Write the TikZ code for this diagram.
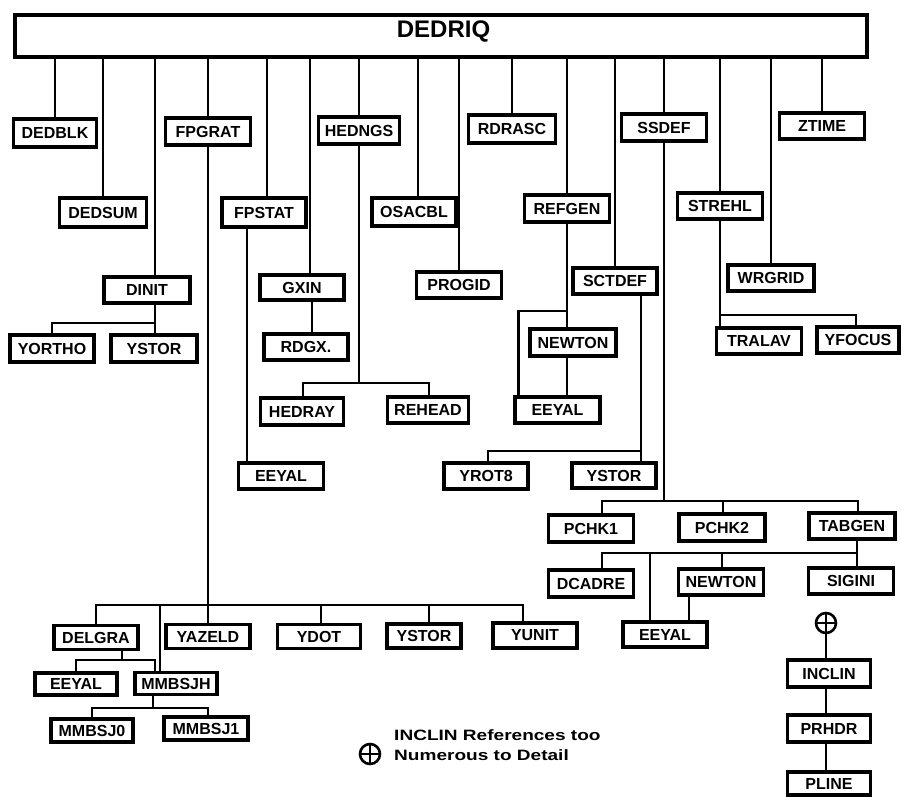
\documentclass[tikz,border=0pt]{standalone}
\usepackage{fontspec}
\setmainfont{Liberation Sans}
\newfontfamily\widefont{Liberation Sans}[FakeStretch=1.27]
\begin{document}
\begin{tikzpicture}[x=1pt,y=-1pt,
  box/.style={draw, line width=3.2pt, fill=white, inner sep=0pt,
    minimum width=84pt, minimum height=26pt,
    font=\bfseries\fontsize{16}{16}\selectfont},
  wire/.style={line width=2.8pt},
  bar/.style={draw, line width=3.2pt, fill=white, inner sep=0pt,
    minimum width=852pt, minimum height=42pt},
  titletext/.style={inner sep=0pt, font=\bfseries\fontsize{24}{24}\selectfont},
  oplus/.style={circle, draw, line width=2.6pt, minimum size=20pt, inner sep=0pt,
    path picture={\draw[line width=2.6pt]
      (path picture bounding box.north) -- (path picture bounding box.south)
      (path picture bounding box.west) -- (path picture bounding box.east);}},
  legendtext/.style={inner sep=0pt, align=left,
    font=\widefont\bfseries\fontsize{15}{20}\selectfont}
]
\fill[white] (0,0) rectangle (901,796);
\useasboundingbox (0,0) rectangle (901,796);

% top bar
\node[bar] (bar) at (441,36) {};
\node[titletext, anchor=base] (title) at (443.5,37) {DEDRIQ};

% row 1
\node[box, minimum width=83, minimum height=28] (dedblk) at (55,133) {DEDBLK};
\node[box, minimum width=85, minimum height=27] (fpgrat) at (208,131.5) {FPGRAT};
\node[box, minimum width=81, minimum height=27] (hedngs) at (359,130.5) {HEDNGS};
\node[box, minimum width=87, minimum height=28] (rdrasc) at (512,129) {RDRASC};
\node[box, minimum width=85, minimum height=27] (ssdef) at (664,127.5) {SSDEF};
\node[box, minimum width=85, minimum height=26] (ztime) at (822,126) {ZTIME};

% row 2
\node[box, minimum width=87, minimum height=29] (dedsum) at (103,212.5) {DEDSUM};
\node[box, minimum width=84, minimum height=29] (fpstat) at (264,212.5) {FPSTAT};
\node[box, minimum width=84, minimum height=28] (osacbl) at (414,212) {OSACBL};
\node[box, minimum width=85, minimum height=27] (refgen) at (567,208.5) {REFGEN};
\node[box, minimum width=85, minimum height=26] (strehl) at (720,206) {STREHL};

% row 3
\node[box, minimum width=86] (dinit) at (147,290) {DINIT};
\node[box, minimum width=84, minimum height=25] (gxin) at (302,287.5) {GXIN};
\node[box, minimum width=85] (progid) at (459,285) {PROGID};
\node[box, minimum width=84] (sctdef) at (615,281) {SCTDEF};
\node[box, minimum width=86] (wrgrid) at (771,278) {WRGRID};

% row 4
\node[box, minimum width=84, minimum height=27] (yortho) at (52,348.5) {YORTHO};
\node[box, minimum width=86, minimum height=27] (ystorA) at (154,348.5) {YSTOR};
\node[box, minimum width=84] (rdgx) at (306,347) {RDGX.};
\node[box, minimum width=86, minimum height=27] (newtonA) at (573,342.5) {NEWTON};
\node[box, minimum width=85] (tralav) at (759,341) {TRALAV};
\node[box, minimum width=82] (yfocus) at (858,340) {YFOCUS};

% row 5
\node[box, minimum width=83, minimum height=27] (hedray) at (302,411.5) {HEDRAY};
\node[box, minimum width=81] (rehead) at (428,410) {REHEAD};
\node[box, minimum width=85] (eeyalA) at (557.5,410) {EEYAL};

% row 6
\node[box, minimum width=85] (eeyalB) at (281,476) {EEYAL};
\node[box, minimum width=84] (yrot) at (486,476) {YROT8};
\node[box, minimum width=84, minimum height=25] (ystorB) at (614,475.5) {YSTOR};

% SSDEF subtree
\node[box, minimum width=85, minimum height=27] (pchka) at (591,528.5) {PCHK1};
\node[box, minimum width=86, minimum height=27] (pchkb) at (722,527.5) {PCHK2};
\node[box, minimum width=86] (tabgen) at (852,526) {TABGEN};
\node[box, minimum width=85, minimum height=27] (dcadre) at (591,583.5) {DCADRE};
\node[box, minimum width=85] (newtonB) at (721,582) {NEWTON};
\node[box, minimum width=85] (sigini) at (851,581) {SIGINI};
\node[box, minimum width=84, minimum height=25] (eeyalC) at (665,634.5) {EEYAL};
\node[oplus] (plusA) at (826,623) {};
\node[box, minimum width=83, minimum height=27] (inclin) at (829,673.5) {INCLIN};
\node[box, minimum width=83, minimum height=27] (prhdr) at (829,728.5) {PRHDR};
\node[box, minimum width=83, minimum height=23] (pline) at (829,783.5) {PLINE};

% FPGRAT subtree
\node[box, minimum width=84, minimum height=24] (delgra) at (96,637.5) {DELGRA};
\node[box, minimum width=84, minimum height=24] (yazeld) at (208,636.5) {YAZELD};
\node[box, minimum width=83, minimum height=24] (ydot) at (319,636.5) {YDOT};
\node[box, minimum width=74, minimum height=24] (ystorC) at (424,636) {YSTOR};
\node[box, minimum width=84, minimum height=25] (yunit) at (535,635.5) {YUNIT};
\node[box, minimum width=82, minimum height=22] (eeyalD) at (76,684) {EEYAL};
\node[box, minimum width=82, minimum height=22] (mmbsjh) at (176,683.5) {MMBSJH};
\node[box, minimum width=82, minimum height=23] (mmbsja) at (92,730.5) {MMBSJ0};
\node[box, minimum width=84, minimum height=23] (mmbsjb) at (206,728.5) {MMBSJ1};

% legend
\node[oplus] (plusB) at (370,754) {};
\node[legendtext, anchor=west] (legend) at (394,745) {INCLIN References too\\Numerous to Detail};

% bus levels
\coordinate (yD) at (0,323);
\coordinate (yH) at (0,383);
\coordinate (yR) at (0,311);
\coordinate (yS) at (0,315);
\coordinate (yC) at (0,451);
\coordinate (yP) at (0,501);
\coordinate (yT) at (0,553);
\coordinate (yF) at (0,605);
\coordinate (yG) at (0,660);
\coordinate (yM) at (0,708);

% connectors from the top bar
\draw[wire] (dedblk.north) -- (dedblk.north |- bar.south);
\draw[wire] (dedsum.north) -- (dedsum.north |- bar.south);
\draw[wire] ([xshift=8]dinit.north) -- ([xshift=8]dinit.north |- bar.south);
\draw[wire] (fpgrat.north) -- (fpgrat.north |- bar.south);
\draw[wire] ([xshift=3]fpstat.north) -- ([xshift=3]fpstat.north |- bar.south);
\draw[wire] ([xshift=8]gxin.north) -- ([xshift=8]gxin.north |- bar.south);
\draw[wire] (hedngs.north) -- (hedngs.north |- bar.south);
\draw[wire] ([xshift=4]osacbl.north) -- ([xshift=4]osacbl.north |- bar.south);
\draw[wire] (progid.north) -- (progid.north |- bar.south);
\draw[wire] (rdrasc.north) -- (rdrasc.north |- bar.south);
\draw[wire] (refgen.north) -- (refgen.north |- bar.south);
\draw[wire] (sctdef.north) -- (sctdef.north |- bar.south);
\draw[wire] (ssdef.north) -- (ssdef.north |- bar.south);
\draw[wire] (strehl.north) -- (strehl.north |- bar.south);
\draw[wire] (wrgrid.north) -- (wrgrid.north |- bar.south);
\draw[wire] (ztime.north) -- (ztime.north |- bar.south);

% DINIT
\draw[wire] ([xshift=8]dinit.south) -- ([xshift=8]dinit.south |- ystorA.north);
\draw[wire] (yortho.north) |- ([xshift=8]dinit.south |- yD);

% FPSTAT, GXIN
\draw[wire] ([xshift=-17]fpstat.south) -- ([xshift=-17]fpstat.south |- eeyalB.north);
\draw[wire] ([xshift=10]gxin.south) -- ([xshift=10]gxin.south |- rdgx.north);

% HEDNGS
\draw[wire] (hedngs.south) -- (hedngs.south |- yH);
\draw[wire] ([xshift=1]hedray.north) |- ([xshift=1]rehead.north |- yH) -- ([xshift=1]rehead.north);

% REFGEN
\draw[wire] (refgen.south) -- (refgen.south |- newtonA.north);
\draw[wire] (refgen.south |- yR) -| ([xshift=-39]eeyalA.north);
\draw[wire] (newtonA.south -| refgen.south) -- (refgen.south |- eeyalA.north);

% SCTDEF
\draw[wire] ([xshift=26]sctdef.south) -- ([xshift=26]sctdef.south |- ystorB.north);
\draw[wire] ([xshift=2]yrot.north) |- ([xshift=26]sctdef.south |- yC);

% STREHL
\draw[wire] (strehl.south) -- (strehl.south |- tralav.north);
\draw[wire] (strehl.south |- yS) -| ([xshift=-2]yfocus.north);

% SSDEF
\draw[wire] (ssdef.south) -- (ssdef.south |- yP);
\draw[wire] ([xshift=11]pchka.north) |- ([xshift=6]tabgen.north |- yP) -- ([xshift=6]tabgen.north);
\draw[wire] ([xshift=1]pchkb.north) -- ([xshift=1]pchkb.north |- yP);

% TABGEN
\draw[wire] ([xshift=5]tabgen.south) -- ([xshift=5]tabgen.south |- sigini.north);
\draw[wire] ([xshift=11]dcadre.north) |- ([xshift=5]tabgen.south |- yT);
\draw[wire] ([xshift=1]newtonB.north) -- ([xshift=1]newtonB.north |- yT);
\draw[wire] ([xshift=-15]eeyalC.north) -- ([xshift=-15]eeyalC.north |- yT);
\draw[wire] ([xshift=-32]newtonB.south) -- ([xshift=-32]newtonB.south |- eeyalC.north);

% INCLIN column
\draw[wire] (plusA.south) -- (plusA.south |- inclin.north);
\draw[wire] ([xshift=-3]inclin.south) -- ([xshift=-3]inclin.south |- prhdr.north);
\draw[wire] ([xshift=-3]prhdr.south) -- ([xshift=-3]prhdr.south |- pline.north);

% FPGRAT subtree
\draw[wire] (fpgrat.south) -- (fpgrat.south |- yazeld.north);
\draw[wire] (delgra.north) |- ([xshift=-12]yunit.north |- yF) -- ([xshift=-12]yunit.north);
\draw[wire] ([xshift=-16]mmbsjh.north) -- ([xshift=-16]mmbsjh.north |- yF);
\draw[wire] ([xshift=2]ydot.north) -- ([xshift=2]ydot.north |- yF);
\draw[wire] ([xshift=5]ystorC.north) -- ([xshift=5]ystorC.north |- yF);

% DELGRA, MMBSJH
\draw[wire] ([xshift=26]delgra.south) -- ([xshift=26]delgra.south |- yG);
\draw[wire] (eeyalD.north) |- ([xshift=-21]mmbsjh.north |- yG) -- ([xshift=-21]mmbsjh.north);
\draw[wire] ([xshift=-23]mmbsjh.south) -- ([xshift=-23]mmbsjh.south |- yM);
\draw[wire] (mmbsja.north) |- ([xshift=2]mmbsjb.north |- yM) -- ([xshift=2]mmbsjb.north);
\end{tikzpicture}
\end{document}
